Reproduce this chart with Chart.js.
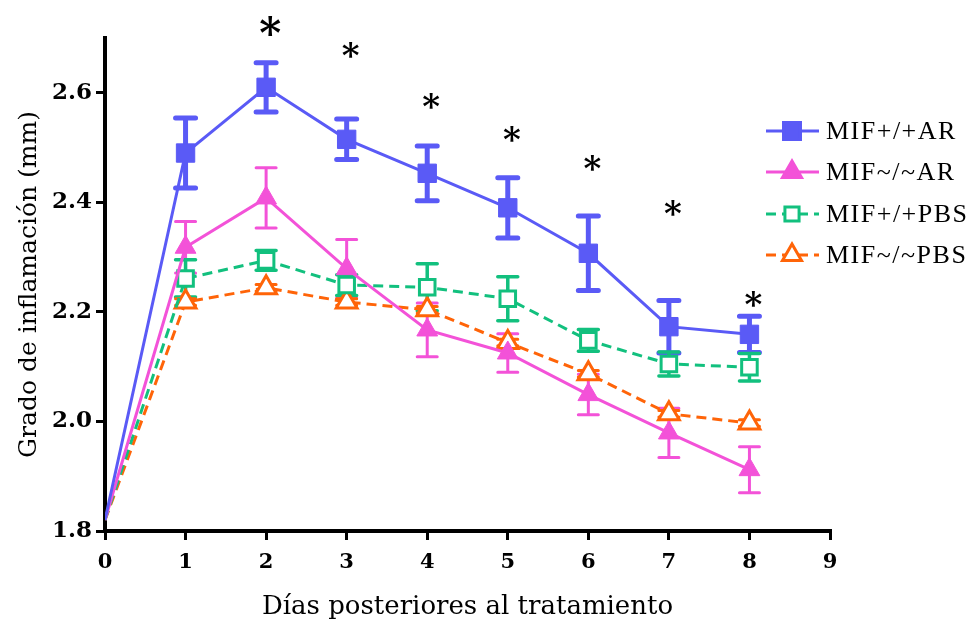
<!DOCTYPE html>
<html>
<head>
<meta charset="utf-8">
<script src="https://cdn.jsdelivr.net/npm/chart.js@4.4.0/dist/chart.umd.min.js"></script>
<style>
  html, body { margin: 0; background: #fff; }
  #wrap { width: 970px; height: 619px; }
</style>
</head>
<body>
<div id="wrap"><canvas id="grafico"></canvas></div>
<script>
// Datos
const dias = [0, 1, 2, 3, 4, 5, 6, 7, 8];
const nombres = ["MIF+/+AR", "MIF~/~AR", "MIF+/+PBS", "MIF~/~PBS"];

const arWT = [1.82, 2.49, 2.61, 2.515, 2.453, 2.39, 2.307, 2.173, 2.159];
const arWTerr = [0, 0.064, 0.045, 0.037, 0.05, 0.055, 0.068, 0.048, 0.033];
const arKO = [1.82, 2.318, 2.408, 2.279, 2.167, 2.125, 2.049, 1.979, 1.912];
const arKOerr = [0, 0.047, 0.055, 0.053, 0.049, 0.035, 0.037, 0.045, 0.042];
const pbsWT = [1.82, 2.261, 2.294, 2.249, 2.245, 2.224, 2.148, 2.105, 2.099];
const pbsWTerr = [0, 0.034, 0.018, 0.019, 0.043, 0.04, 0.02, 0.022, 0.025];
const pbsKO = [1.82, 2.218, 2.244, 2.218, 2.204, 2.144, 2.087, 2.014, 1.997];
const pbsKOerr = [0, 0.006, 0.006, 0.006, 0.006, 0.006, 0.006, 0.006, 0.006];

// Asteriscos de significancia
const asteriscoDias = [2, 3, 4, 5, 6, 7, 8];
const asteriscoY = [2.722, 2.678, 2.585, 2.525, 2.471, 2.39, 2.223];

const ticksY = [1.8, 2.0, 2.2, 2.4, 2.6];

const AZUL = "#5a5af6";
const ROSA = "#f352d8";
const VERDE = "#12c07e";
const NARANJA = "#ff6408";

const puntos = (vals) => vals.map((v, i) => ({ x: dias[i], y: v }));
const radios = (r) => dias.map((d) => d === 0 ? 0 : r);

const serie = (label, vals, errs, color, estilo, radio, relleno, dash, errW) => ({
  label,
  data: puntos(vals),
  errores: errs,
  errAncho: errW,
  borderColor: color,
  backgroundColor: color,
  borderWidth: 3,
  borderDash: dash,
  pointStyle: estilo,
  pointRadius: radios(radio),
  pointHoverRadius: radios(radio),
  pointBackgroundColor: relleno,
  pointBorderColor: color,
  pointBorderWidth: relleno === "#fff" ? 3 : 1,
  tension: 0,
});

// Barras de error
const barrasError = {
  id: "barrasError",
  beforeDatasetsDraw(chart) {
    const { ctx, scales: { x, y } } = chart;
    chart.data.datasets.forEach((ds) => {
      ctx.save();
      ctx.strokeStyle = ds.borderColor;
      ctx.lineWidth = ds.errAncho;
      ctx.lineCap = "round";
      ds.data.forEach((p, i) => {
        const e = ds.errores[i];
        if (!e) return;
        const px = x.getPixelForValue(p.x);
        const y1 = y.getPixelForValue(p.y + e);
        const y2 = y.getPixelForValue(p.y - e);
        ctx.beginPath();
        ctx.moveTo(px, y1); ctx.lineTo(px, y2);
        ctx.moveTo(px - 10, y1); ctx.lineTo(px + 10, y1);
        ctx.moveTo(px - 10, y2); ctx.lineTo(px + 10, y2);
        ctx.stroke();
      });
      ctx.restore();
    });
  },
};

// Asteriscos
const asteriscos = {
  id: "asteriscos",
  afterDraw(chart) {
    const { ctx, scales: { x, y } } = chart;
    ctx.save();
    ctx.fillStyle = "#000";
    ctx.textAlign = "center";
    ctx.textBaseline = "alphabetic";
    asteriscoDias.forEach((d, i) => {
      ctx.font = i === 0 ? "bold 42px 'DejaVu Serif'" : "bold 34px 'DejaVu Serif'";
      const m = ctx.measureText("*");
      const alto = m.actualBoundingBoxAscent - m.actualBoundingBoxDescent;
      ctx.fillText("*", x.getPixelForValue(d) + 4, y.getPixelForValue(asteriscoY[i]) + alto / 2);
    });
    ctx.restore();
  },
};

// Leyenda a la derecha
const leyenda = {
  id: "leyenda",
  afterDraw(chart) {
    const { ctx } = chart;
    const ys = [131, 172, 214, 255];
    chart.data.datasets.forEach((ds, i) => {
      const yy = ys[i];
      ctx.save();
      ctx.strokeStyle = ds.borderColor;
      ctx.lineWidth = 3;
      ctx.setLineDash(ds.borderDash || []);
      ctx.beginPath();
      ctx.moveTo(766, yy); ctx.lineTo(819, yy);
      ctx.stroke();
      ctx.setLineDash([]);
      ctx.fillStyle = ds.pointBackgroundColor;
      ctx.strokeStyle = ds.pointBorderColor;
      Chart.helpers.drawPoint(ctx, {
        pointStyle: ds.pointStyle,
        radius: ds.pointRadius[1] - 1,
        rotation: 0,
        borderWidth: ds.pointBorderWidth,
      }, 792, yy);
      ctx.fillStyle = "#000";
      ctx.font = "26px 'Liberation Serif'";
      ctx.letterSpacing = "1.5px";
      ctx.textAlign = "left";
      ctx.textBaseline = "middle";
      ctx.fillText(ds.label, 826, yy + 1);
      ctx.restore();
    });
  },
};

new Chart(document.getElementById("grafico"), {
  type: "line",
  data: {
    datasets: [
      serie(nombres[0], arWT, arWTerr, AZUL, "rect", 13, AZUL, [], 5),
      serie(nombres[1], arKO, arKOerr, ROSA, "triangle", 12, ROSA, [], 3),
      serie(nombres[2], pbsWT, pbsWTerr, VERDE, "rect", 11, "#fff", [10, 6], 3.5),
      serie(nombres[3], pbsKO, pbsKOerr, NARANJA, "triangle", 12, "#fff", [10, 6], 3),
    ],
  },
  options: {
    responsive: true,
    maintainAspectRatio: false,
    animation: false,
    layout: { padding: { left: 0, right: 140, top: 38, bottom: 0 } },
    plugins: {
      legend: { display: false },
      tooltip: { enabled: false },
    },
    scales: {
      x: {
        type: "linear",
        min: 0,
        max: 9,
        afterFit: (s) => { s.height = 88; },
        ticks: {
          stepSize: 1,
          color: "#000",
          padding: 10,
          font: { family: "DejaVu Serif", size: 21, weight: "bold" },
        },
        grid: { display: true, drawOnChartArea: false, drawTicks: true, tickLength: 9, color: "#000", lineWidth: 3 },
        border: { display: true, color: "#000", width: 4 },
        title: {
          display: true,
          text: "Días posteriores al tratamiento",
          color: "#000",
          padding: { top: 0, bottom: -4 },
          font: { family: "DejaVu Serif", size: 26 },
        },
      },
      y: {
        min: 1.8,
        max: 2.7,
        afterFit: (s) => { s.width = 105; },
        afterBuildTicks: (s) => { s.ticks = ticksY.map((v) => ({ value: v })); },
        ticks: {
          color: "#000",
          padding: 4,
          callback: (v) => v.toFixed(1),
          font: { family: "DejaVu Serif", size: 23, weight: "bold" },
        },
        grid: { display: true, drawOnChartArea: false, drawTicks: true, tickLength: 9, color: "#000", lineWidth: 3 },
        border: { display: true, color: "#000", width: 4 },
        title: {
          display: true,
          text: "Grado de inflamación (mm)",
          color: "#000",
          padding: { top: 14, bottom: 0 },
          font: { family: "DejaVu Serif", size: 25 },
        },
      },
    },
  },
  plugins: [barrasError, asteriscos, leyenda],
});
</script>
</body>
</html>
